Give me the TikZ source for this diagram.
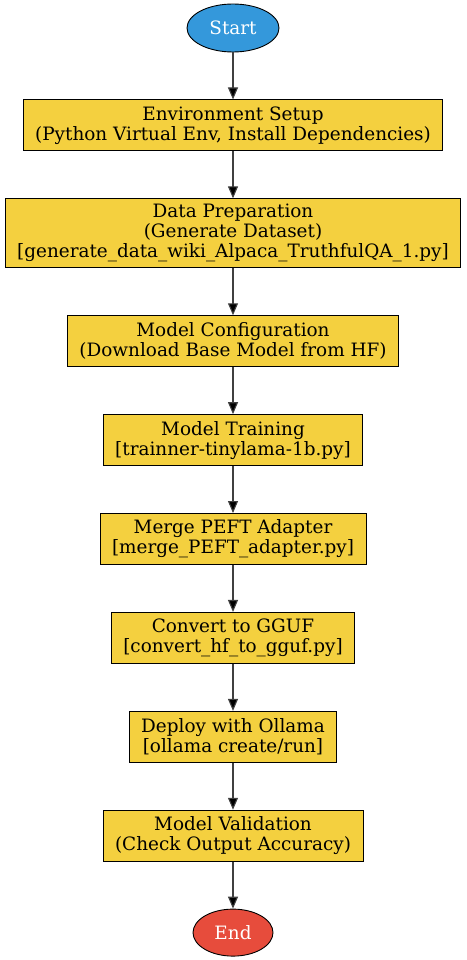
\documentclass[tikz,border=0pt]{standalone}
\usepackage{fontspec}
\setmainfont{DejaVu Serif}
\usepackage{tikz}
\usetikzlibrary{positioning,shapes.geometric,arrows.meta}
\definecolor{startblue}{HTML}{3498DB}
\definecolor{stepyellow}{HTML}{F4D03F}
\definecolor{endred}{HTML}{E74C3C}

\begin{document}
\begin{tikzpicture}[x=1pt,y=1pt,
  font=\fontsize{18.4}{20}\selectfont,
  node distance=47pt,
  terminal/.style={ellipse, draw=black, line width=0.9pt, text=white,
    minimum width=92pt, minimum height=48pt, inner sep=0pt},
  process/.style={rectangle, draw=black, line width=0.9pt, fill=stepyellow,
    align=center, inner xsep=12pt, inner ysep=5pt, minimum height=51pt},
  flow/.style={draw=black!75, line width=1.1pt,
    -{Triangle[length=12pt,width=10pt,fill=black]}}]
    \useasboundingbox (0,0) rectangle (466,-960);
    \node[terminal, fill=startblue] (start) at (233,-28) {Start};
    \node[process, below=of start] (env) {Environment Setup\\(Python Virtual Env, Install Dependencies)};
    \node[process, minimum height=69pt, below=of env] (data) {Data Preparation\\(Generate Dataset)\\{}[generate\_data\_wiki\_Alpaca\_TruthfulQA\_1.py]};
    \node[process, below=of data] (config) {Model Configuration\\(Download Base Model from HF)};
    \node[process, below=of config] (train) {Model Training\\{}[trainner-tinylama-1b.py]};
    \node[process, below=of train] (merge) {Merge PEFT Adapter\\{}[merge\_PEFT\_adapter.py]};
    \node[process, below=of merge] (gguf) {Convert to GGUF\\{}[convert\_hf\_to\_gguf.py]};
    \node[process, below=of gguf] (deploy) {Deploy with Ollama\\{}[ollama create/run]};
    \node[process, below=of deploy] (valid) {Model Validation\\(Check Output Accuracy)};
    \node[terminal, fill=endred, minimum width=80pt, minimum height=47pt, below=of valid] (end) {End};
    % arrows down the chain
    \foreach \a/\b in {start/env, env/data, data/config, config/train,
      train/merge, merge/gguf, gguf/deploy, deploy/valid, valid/end}
      \draw[flow] (\a) -- (\b);
\end{tikzpicture}
\end{document}
